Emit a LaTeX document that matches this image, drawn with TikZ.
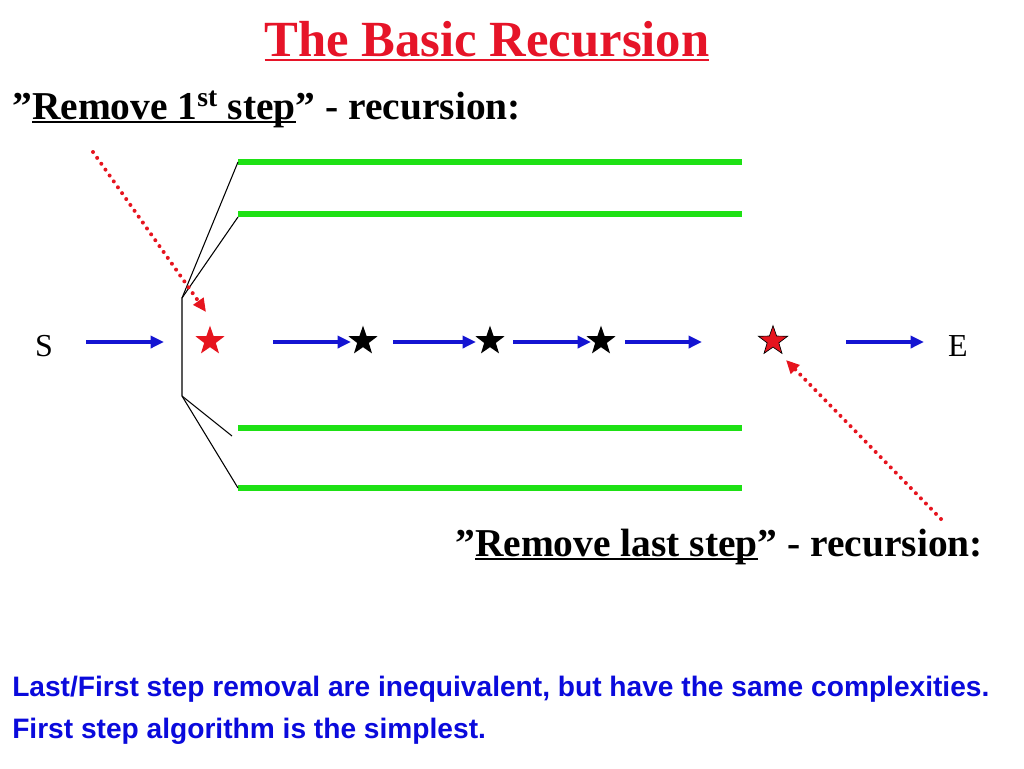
\documentclass[tikz,border=0pt]{standalone}
\usepackage{fontspec}
\setmainfont{Liberation Serif}
\newfontfamily\arialf{Liberation Sans}
\usetikzlibrary{arrows.meta,shapes.geometric}
\definecolor{ttlred}{RGB}{230,20,40}
\definecolor{arblue}{RGB}{20,20,210}
\definecolor{txtblue}{RGB}{10,10,220}
\definecolor{grn}{RGB}{30,225,20}
\definecolor{dotred}{RGB}{230,20,30}
\newcommand{\ulbar}[3]{\setbox0\hbox{#3}\rlap{\rule[-#1]{\wd0}{#2}}\box0}
\tikzset{
  bar/.style={draw=grn, line width=5pt},
  brk/.style={draw=black, line width=0.8pt},
  flow/.style={draw=arblue, line width=2.5pt, -{Triangle[length=10pt,width=9pt]}},
  pointer/.style={draw=dotred, line width=3pt, line cap=round, dash pattern=on 0pt off 5.4pt, -{Triangle[length=10pt,width=9pt,line cap=butt]}},
  starnode/.style={star, star points=5, star point ratio=2.5, minimum size=23pt, inner sep=0pt},
  txt/.style={inner sep=0pt, anchor=base west},
}
\begin{document}
\begin{tikzpicture}[x=0.75pt,y=-0.75pt]
\useasboundingbox (0,0) rectangle (1024,768);
% title
\node[txt, anchor=base, text=ttlred, font=\fontsize{38}{44}\selectfont\bfseries] (title) at (487,56) {\ulbar{4pt}{2pt}{The Basic Recursion}};
\node[txt, font=\fontsize{29.6}{36}\selectfont\bfseries] (first) at (12,119) {”\ulbar{3pt}{1.6pt}{Remove 1\textsuperscript{st} step}” - recursion:};
\node[txt, font=\fontsize{29.6}{36}\selectfont\bfseries] (last) at (455,556) {”\ulbar{3pt}{1.6pt}{Remove last step}” - recursion:};
\node[txt, text=txtblue, font=\arialf\fontsize{21.1}{25}\selectfont\bfseries] (note1) at (12,696) {Last/First step removal are inequivalent, but have the same complexities.};
\node[txt, text=txtblue, font=\arialf\fontsize{21.1}{25}\selectfont\bfseries] (note2) at (12,738) {First step algorithm is the simplest.};
% green bars
\coordinate (g1a) at (238,162); \coordinate (g1b) at (742,162);
\coordinate (g2a) at (238,214); \coordinate (g2b) at (742,214);
\coordinate (g3a) at (238,428); \coordinate (g3b) at (742,428);
\coordinate (g4a) at (238,488); \coordinate (g4b) at (742,488);
\draw[bar] (g1a) -- (g1b);
\draw[bar] (g2a) -- (g2b);
\draw[bar] (g3a) -- (g3b);
\draw[bar] (g4a) -- (g4b);
% bracket
\coordinate (bt) at (182,298); \coordinate (bb) at (182,396);
\coordinate (b2) at (238,217); \coordinate (b3) at (232,436);
\draw[brk] (g1a) -- (bt) -- (bb) -- (g4a);
\draw[brk] (bt) -- (b2);
\draw[brk] (bb) -- (b3);
% nodes on the path
\node[font=\fontsize{24}{28}\selectfont] (S) at (44,346) {S};
\node[font=\fontsize{24}{28}\selectfont] (E) at (958,346) {E};
\node[starnode, fill=dotred] (s1) at (210,341) {};
\node[starnode, fill=black] (s2) at (363,341) {};
\node[starnode, fill=black] (s3) at (490,341) {};
\node[starnode, fill=black] (s4) at (601,341) {};
\node[starnode, fill=dotred, draw=black, line width=0.5pt] (s5) at (773,341) {};
% flow arrows
\coordinate (a1s) at (86,342);  \coordinate (a1e) at (164,342);
\coordinate (a2s) at (273,342); \coordinate (a2e) at (351,342);
\coordinate (a3s) at (393,342); \coordinate (a3e) at (476,342);
\coordinate (a4s) at (513,342); \coordinate (a4e) at (591,342);
\coordinate (a5s) at (625,342); \coordinate (a5e) at (702,342);
\coordinate (a6s) at (846,342); \coordinate (a6e) at (924,342);
\draw[flow] (a1s) -- (a1e);
\draw[flow] (a2s) -- (a2e);
\draw[flow] (a3s) -- (a3e);
\draw[flow] (a4s) -- (a4e);
\draw[flow] (a5s) -- (a5e);
\draw[flow] (a6s) -- (a6e);
% red pointers
\coordinate (p1) at (93,152);
\coordinate (p1e) at (206,312);
\coordinate (p2) at (941,519);
\coordinate (p2e) at (786,360);
\draw[pointer] (p1) -- (p1e);
\draw[pointer] (p2) -- (p2e);
\end{tikzpicture}
\end{document}
